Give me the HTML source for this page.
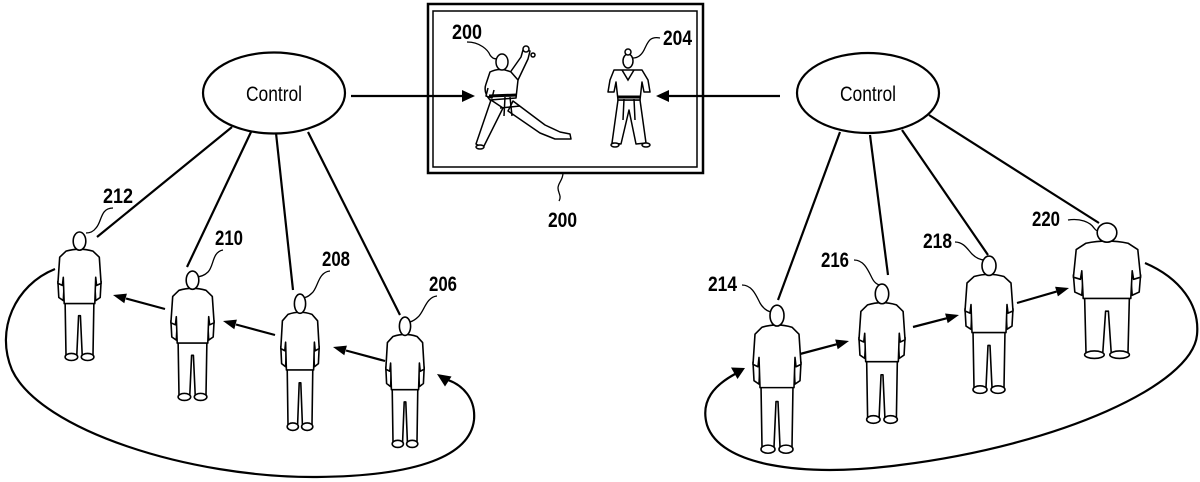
<!DOCTYPE html>
<html><head><meta charset="utf-8"><style>
html,body{margin:0;padding:0;background:#fff;}
svg{display:block;}
text{font-family:"Liberation Sans",sans-serif;fill:#000;}
.lbl{font-size:21px;font-weight:bold;}
.ctl{font-size:21px;}
</style></head><body>
<svg width="1200" height="482" viewBox="0 0 1200 482" xmlns="http://www.w3.org/2000/svg">
<defs>
<symbol id="p" viewBox="0 0 50 130" preserveAspectRatio="none">
<g fill="#fff" stroke="#000" stroke-width="1.6" stroke-linejoin="round">
<path vector-effect="non-scaling-stroke" d="M1,50 L2,66 L7,69 L8,52 Z"/>
<path vector-effect="non-scaling-stroke" d="M49,50 L48,66 L43,69 L42,52 Z"/>
<path vector-effect="non-scaling-stroke" d="M9,70 L41,70 L40,123 L28,123 L26,84 L24,84 L22,123 L10,123 Z"/>
<ellipse vector-effect="non-scaling-stroke" cx="16" cy="125" rx="7" ry="3.5"/>
<ellipse vector-effect="non-scaling-stroke" cx="34" cy="125" rx="7" ry="3.5"/>
<path vector-effect="non-scaling-stroke" d="M10,20 Q25,16 40,20 L47,26 L49,52 L44,54 L43,46 L42,72 L8,72 L7,46 L6,54 L1,52 L3,26 Z"/>
<ellipse vector-effect="non-scaling-stroke" cx="25" cy="10" rx="7" ry="9"/>
</g>
</symbol>
</defs>

<g fill="none" stroke="#000" stroke-width="2.2">
<ellipse cx="274" cy="93" rx="71" ry="40.5"/>
<ellipse cx="868" cy="93" rx="71" ry="40"/>
<rect x="428" y="4" width="275" height="169" stroke-width="2.5"/>
<rect x="433" y="11" width="264" height="156" stroke-width="1.5"/>
<line x1="351" y1="96" x2="463" y2="96"/>
<line x1="780" y1="96" x2="668" y2="96"/>
<line x1="232" y1="127" x2="97" y2="237"/>
<line x1="251" y1="132" x2="187" y2="267"/>
<line x1="276" y1="133" x2="293" y2="290"/>
<line x1="308" y1="132" x2="400" y2="315"/>
<line x1="840" y1="132" x2="778" y2="300"/>
<line x1="870" y1="135" x2="888" y2="275"/>
<line x1="902" y1="130" x2="988" y2="255"/>
<line x1="929" y1="115" x2="1099" y2="223"/>
<path d="M55,269 C15,285 -5,330 12,370 C40,430 190,478 317,477 C420,476 470,455 474,420 C476,398 462,385 448,380"/>
<path d="M1145,263 C1180,278 1200,305 1197,335 C1192,385 1060,445 900,465 C800,478 720,465 707,425 C700,400 715,385 735,374"/>
<line x1="165" y1="309" x2="126" y2="298.5"/>
<line x1="275" y1="335" x2="236" y2="324.5"/>
<line x1="385" y1="361" x2="346" y2="350.5"/>
<line x1="800" y1="354" x2="836.5" y2="344.3"/>
<line x1="913" y1="327" x2="946.5" y2="318.3"/>
<line x1="1017" y1="303" x2="1056.5" y2="291.6"/>
</g>
<g fill="#000" stroke="none">
<polygon points="475,96 462,90 462,102"/>
<polygon points="656,96 669,90 669,102"/>
<polygon points="113,295 126.9,293.6 124.3,303.2"/>
<polygon points="223,321 236.9,319.6 234.3,329.2"/>
<polygon points="333,347 346.9,345.6 344.3,355.2"/>
<polygon points="849,341 837.7,349.2 835.2,339.5"/>
<polygon points="959,315 947.7,323.1 945.1,313.5"/>
<polygon points="1069,288 1057.9,296.4 1055.1,286.8"/>
<polygon points="437,374 451.5,376.5 445,386.5"/>
<polygon points="745,368 731,367.5 737.5,379"/>
</g>

<g fill="none" stroke="#000" stroke-width="1.3">
<path d="M467,42 C480,42 488,50 490,55 C492,58 495,60 499,58"/>
<path d="M660,38 C650,36 648,42 645,48 C642,55 638,58 633,58"/>
<path d="M563,173 C563,180 558,183 558,188 C558,193 562,196 559,201"/>
<path d="M113,208 C100,208 102,222 96,228 C93,232 90,233 86,233"/>
<path d="M223,250 C212,252 214,266 208,272 C204,276 200,277 195,277"/>
<path d="M330,271 C318,272 318,288 312,293 C308,297 305,298 301,298"/>
<path d="M437,296 C426,297 424,312 418,317 C415,320 413,321 410,322"/>
<path d="M742,285 C752,285 756,295 760,303 C764,310 770,313 775,312"/>
<path d="M854,260 C864,260 868,270 872,278 C875,284 879,286 884,285"/>
<path d="M955,242 C964,242 968,250 972,254 C976,258 980,260 985,260"/>
<path d="M1068,220 C1080,218 1090,222 1094,228 C1097,232 1100,232 1103,232"/>
</g>

<use href="#p" x="57" y="231" width="45" height="131"/>
<use href="#p" x="170" y="270" width="45" height="132"/>
<use href="#p" x="280" y="293" width="40" height="139"/>
<use href="#p" x="385" y="316" width="40" height="133"/>
<use href="#p" x="752" y="304" width="50" height="151"/>
<use href="#p" x="858" y="283" width="48" height="142"/>
<use href="#p" x="964" y="255" width="50" height="140"/>
<use href="#p" x="1072" y="222" width="70" height="138"/>

<g fill="#fff" stroke="#000" stroke-width="1.5" stroke-linejoin="round">
<path d="M491,100 L476,144 L483,148 L503,108 Z"/>
<path d="M513,101 L545,125 L560,132 L570,134 L571,139 L555,139 L540,133 L508,111 Z"/>
<path d="M509,74 L521,57 L523,50 L530,51 L528,59 L518,80 Z"/>
<path d="M490,72 Q500,67 511,72 L518,80 L516,98 L490,100 Q483,92 486,84 Z"/>
<path d="M488,88 L486,96 L492,98 L494,90"/>
<circle cx="526" cy="49" r="3"/>
<circle cx="533" cy="55" r="2"/>
<ellipse cx="502" cy="62" rx="6" ry="8"/>
<ellipse cx="480" cy="147" rx="4" ry="2"/>
<path d="M618,100 L612,143 L621,144 L629,110 L636,144 L646,143 L640,100 Z"/>
<path d="M614,70 L642,70 L648,80 L650,92 L644,92 L642,82 L640,100 L618,100 L616,82 L614,92 L608,92 L610,80 Z"/>
<ellipse cx="628" cy="61" rx="5" ry="7"/>
<circle cx="628" cy="52" r="3"/>
<ellipse cx="615" cy="145" rx="4" ry="2"/>
<ellipse cx="646" cy="145" rx="4" ry="2"/>
</g>
<g fill="none" stroke="#000" stroke-width="1.5">
<line x1="489" y1="96" x2="517" y2="95" stroke-width="3"/>
<path d="M505,97 L504,116 M510,97 L512,116 M500,108 L520,106"/>
<path d="M618,97 L640,97" stroke-width="3"/>
<path d="M624,99 L623,120 M634,99 L635,120"/>
<path d="M622,70 L628,80 L634,70"/>
</g>

<text class="ctl" x="246" y="101" textLength="56" lengthAdjust="spacingAndGlyphs">Control</text>
<text class="ctl" x="840" y="101" textLength="56" lengthAdjust="spacingAndGlyphs">Control</text>
<text class="lbl" x="452" y="39" textLength="30" lengthAdjust="spacingAndGlyphs">200</text>
<text class="lbl" x="663" y="45" textLength="29" lengthAdjust="spacingAndGlyphs">204</text>
<text class="lbl" x="548" y="227" textLength="29" lengthAdjust="spacingAndGlyphs">200</text>
<text class="lbl" x="103" y="203" textLength="30" lengthAdjust="spacingAndGlyphs">212</text>
<text class="lbl" x="215" y="245" textLength="28" lengthAdjust="spacingAndGlyphs">210</text>
<text class="lbl" x="322" y="266" textLength="28" lengthAdjust="spacingAndGlyphs">208</text>
<text class="lbl" x="429" y="291" textLength="28" lengthAdjust="spacingAndGlyphs">206</text>
<text class="lbl" x="708" y="291" textLength="29" lengthAdjust="spacingAndGlyphs">214</text>
<text class="lbl" x="821" y="267" textLength="28" lengthAdjust="spacingAndGlyphs">216</text>
<text class="lbl" x="923" y="248" textLength="29" lengthAdjust="spacingAndGlyphs">218</text>
<text class="lbl" x="1032" y="226" textLength="28" lengthAdjust="spacingAndGlyphs">220</text>
</svg>
</body></html>
